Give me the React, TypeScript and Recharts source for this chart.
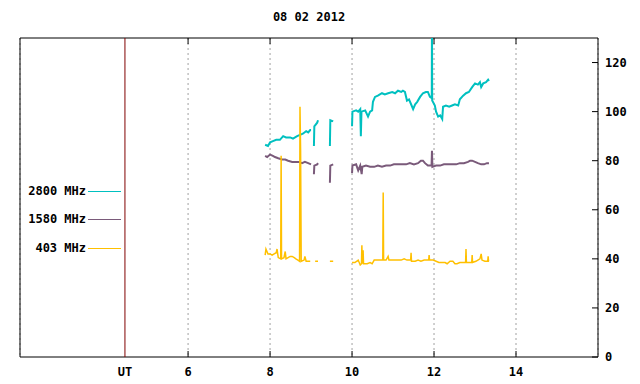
import React from 'react';
import { LineChart, Line, XAxis, YAxis, CartesianGrid, ReferenceLine, ReferenceArea } from 'recharts';

// hours UT, flux values; null = gap in the record
const s2800: [number, number | null][] = [
    [7.88, 86.5], [7.95, 86], [8.0, 87.5], [8.07, 88], [8.15, 88.5], [8.24, 88.5], [8.32, 90], [8.39, 89.5],
    [8.49, 89.5], [8.56, 89], [8.66, 90], [8.73, 90.5], [8.8, 91], [8.88, 92], [8.93, 91.5], [8.98, 92.5], [9.0, 92.5],
    [9.04, null],
    [9.07, 86], [9.08, 94], [9.15, 95.5], [9.17, 96.5],
    [9.3, null],
    [9.46, 86], [9.47, 96.5], [9.54, 96],
    [9.8, null],
    [10.0, 94], [10.01, 100], [10.1, 100.5], [10.15, 100], [10.2, 101], [10.215, 90], [10.23, 100], [10.32, 100.5],
    [10.39, 98], [10.44, 100], [10.49, 100.5], [10.51, 104], [10.56, 106], [10.63, 106.5], [10.73, 107.5], [10.8, 107],
    [10.88, 107.5], [10.98, 108], [11.05, 107.5], [11.12, 108.5], [11.2, 108], [11.24, 108.5], [11.29, 108],
    [11.34, 104.5], [11.39, 105], [11.44, 103], [11.49, 101], [11.54, 103], [11.59, 104], [11.66, 106], [11.73, 107.5],
    [11.8, 108], [11.85, 108], [11.9, 106], [11.945, 105.5], [11.95, 140], [11.955, 104.5], [12.02, 102.5], [12.05, 100],
    [12.1, 98], [12.15, 98.5], [12.2, 97], [12.22, 102], [12.29, 102.5], [12.37, 102], [12.44, 102.5], [12.51, 103],
    [12.59, 102.5], [12.63, 105], [12.71, 106.5], [12.78, 107.5], [12.85, 108], [12.93, 110], [13.0, 111.5],
    [13.07, 111], [13.12, 112], [13.15, 110], [13.2, 111.5], [13.27, 112], [13.32, 113], [13.34, 112.5],
];

const s1580: [number, number | null][] = [
    [7.88, 82], [7.93, 81.5], [8.0, 82.5], [8.07, 82], [8.12, 81.5], [8.2, 81], [8.29, 80.5], [8.37, 80.5],
    [8.44, 80], [8.54, 79.5], [8.61, 79.5], [8.71, 79.5], [8.78, 79], [8.85, 79.5], [8.93, 79], [9.0, 78.5],
    [9.04, null],
    [9.07, 74.5], [9.08, 78], [9.15, 78.5], [9.17, 79],
    [9.3, null],
    [9.46, 71], [9.47, 78], [9.54, 78.5],
    [9.8, null],
    [10.0, 75], [10.01, 78], [10.1, 78.5], [10.15, 76], [10.2, 78], [10.235, 74.5], [10.25, 77.5], [10.34, 78],
    [10.44, 77.5], [10.54, 77.5], [10.63, 78], [10.73, 77.5], [10.83, 78], [10.93, 78], [11.02, 78.5], [11.12, 78.5],
    [11.22, 78.5], [11.32, 78.5], [11.41, 79], [11.51, 78.5], [11.61, 79], [11.68, 80], [11.73, 80], [11.78, 79],
    [11.85, 78], [11.94, 78], [11.95, 84], [11.96, 77.5], [12.05, 78], [12.15, 78], [12.24, 78.5], [12.34, 78.5],
    [12.44, 78.5], [12.54, 78.5], [12.63, 79], [12.73, 79], [12.83, 79.5], [12.88, 80], [12.93, 80], [13.0, 79.5],
    [13.07, 79], [13.15, 78.5], [13.22, 78.5], [13.29, 79], [13.34, 79],
];

const s403: [number, number | null][] = [
    [7.88, 41.5], [7.9, 44], [7.95, 42], [8.0, 42], [8.05, 41.5], [8.1, 42], [8.15, 42.5], [8.17, 44], [8.2, 40.5],
    [8.26, 40], [8.27, 82], [8.28, 40], [8.34, 40.5], [8.37, 43], [8.39, 40], [8.44, 40.5], [8.49, 41], [8.54, 41],
    [8.59, 40.5], [8.63, 40], [8.68, 39.5], [8.72, 39], [8.73, 102], [8.745, 84], [8.76, 39], [8.83, 39.5], [8.85, 41],
    [8.88, 39], [8.93, 39], [8.98, 39],
    [9.04, null],
    [9.1, 39], [9.17, 39],
    [9.3, null],
    [9.46, 39], [9.54, 39],
    [9.8, null],
    [10.0, 38.5], [10.07, 38.5], [10.15, 39.5], [10.2, 37.5], [10.23, 38], [10.24, 45.5], [10.25, 38], [10.27, 43.5],
    [10.28, 38], [10.37, 38], [10.44, 38.5], [10.49, 38], [10.54, 39.5], [10.61, 39.5], [10.75, 39.5], [10.76, 67],
    [10.77, 39.5], [10.83, 39.5], [10.88, 41], [10.9, 39.5], [10.98, 39.5], [11.05, 39.5], [11.12, 39.5], [11.2, 39.5],
    [11.27, 40], [11.34, 39.5], [11.43, 39.5], [11.44, 42.5], [11.45, 39], [11.54, 39], [11.61, 39.5], [11.68, 39],
    [11.76, 39.5], [11.87, 39.5], [11.88, 41.5], [11.89, 39.5], [11.98, 39.5], [12.05, 39], [12.12, 38.5], [12.2, 38.5],
    [12.27, 38.5], [12.32, 38], [12.39, 39], [12.46, 39], [12.51, 38], [12.56, 38], [12.63, 38.5], [12.77, 38.5],
    [12.78, 44], [12.79, 38.5], [12.88, 38.5], [12.92, 38.5], [12.93, 41.5], [12.94, 38.5], [13.02, 39], [13.07, 39.5],
    [13.12, 40], [13.15, 42], [13.17, 39.5], [13.24, 39], [13.31, 39], [13.32, 41], [13.33, 39], [13.34, 39],
];

const hourTicks = [6, 8, 10, 12, 14];
const fluxTicks = [0, 20, 40, 60, 80, 100, 120];
const hourDomain: [number, number] = [1.9, 16];
const fluxDomain: [number, number] = [0, 130];
const utMark = 4.46;

const series = [
    { name: '2800 MHz', data: s2800, color: '#00c0c0', width: 2 },
    { name: '1580 MHz', data: s1580, color: '#7a5a7a', width: 2 },
    { name: '403 MHz', data: s403, color: '#ffc000', width: 1.5 },
];

const toRows = (pts: [number, number | null][]) => pts.map(([t, v]) => ({ t, v }));

const font = "'DejaVu Sans Mono', 'Liberation Mono', monospace";
const labelStyle = { fontSize: 12, fontWeight: 700, fill: '#000', fontFamily: font };

// inward tick marks, gnuplot style
const BottomTick = ({ x, y, payload }: any) => (
    <g>
        <line x1={x} x2={x} y1={y} y2={y - 6} stroke="#000" />
        <text x={x} y={y + 19} textAnchor="middle" style={labelStyle}>{payload.value}</text>
    </g>
);

const TopTick = ({ x, y }: any) => (
    <line x1={x} x2={x} y1={y} y2={y + 6} stroke="#000" />
);

const RightTick = ({ x, y, payload }: any) => (
    <g>
        <line x1={x} x2={x - 6} y1={y} y2={y} stroke="#000" />
        <text x={x + 7} y={y + 4} textAnchor="start" style={labelStyle}>{payload.value}</text>
    </g>
);

export default function App() {
    return (
        <div style={{ position: 'absolute', left: 0, top: 0, width: 640, height: 384, background: '#fff', fontFamily: font }}>
            <div style={{ position: 'absolute', left: 209, top: 10, width: 200, textAlign: 'center', fontSize: 12, fontWeight: 700 }}>
                08 02 2012
            </div>

            <LineChart width={640} height={384} margin={{ top: 37, right: 0, bottom: 0, left: 20 }}>
                <CartesianGrid horizontal={false} vertical strokeDasharray="2 3" stroke="#a0a0a0" />
                <XAxis
                    type="number"
                    dataKey="t"
                    domain={hourDomain}
                    ticks={hourTicks}
                    height={27}
                    axisLine={false}
                    tickLine={false}
                    tickSize={0}
                    tickMargin={0}
                    tick={<BottomTick />}
                    allowDataOverflow
                />
                <XAxis
                    xAxisId="top"
                    orientation="top"
                    type="number"
                    dataKey="t"
                    domain={hourDomain}
                    ticks={hourTicks}
                    height={1}
                    axisLine={false}
                    tickLine={false}
                    tickSize={0}
                    tickMargin={0}
                    tick={<TopTick />}
                    allowDataOverflow
                />
                <YAxis
                    yAxisId="r"
                    orientation="right"
                    domain={fluxDomain}
                    ticks={fluxTicks}
                    width={42}
                    axisLine={false}
                    tickLine={false}
                    tickSize={0}
                    tickMargin={0}
                    tick={<RightTick />}
                    allowDataOverflow
                />
                <ReferenceArea
                    x1={hourDomain[0]}
                    x2={hourDomain[1]}
                    y1={fluxDomain[0]}
                    y2={fluxDomain[1]}
                    yAxisId="r"
                    fill="none"
                    stroke="#000"
                    strokeWidth={1}
                    ifOverflow="visible"
                />
                <ReferenceLine
                    x={utMark}
                    yAxisId="r"
                    stroke="#800000"
                    label={{ value: 'UT', position: 'bottom', offset: 10, style: labelStyle }}
                />
                {series.map((s) => (
                    <Line
                        key={s.name}
                        yAxisId="r"
                        data={toRows(s.data)}
                        dataKey="v"
                        name={s.name}
                        type="linear"
                        stroke={s.color}
                        strokeWidth={s.width}
                        dot={false}
                        isAnimationActive={false}
                    />
                ))}
            </LineChart>

            {series.map((s, i) => (
                <div key={s.name} style={{ position: 'absolute', left: 0, top: [183, 211, 240][i], height: 16, display: 'flex', alignItems: 'center' }}>
                    <span style={{ width: 86, textAlign: 'right', fontSize: 12, fontWeight: 700 }}>{s.name}</span>
                    <span style={{ marginLeft: 2, width: 33, height: 1, background: s.color }} />
                </div>
            ))}
        </div>
    );
}
